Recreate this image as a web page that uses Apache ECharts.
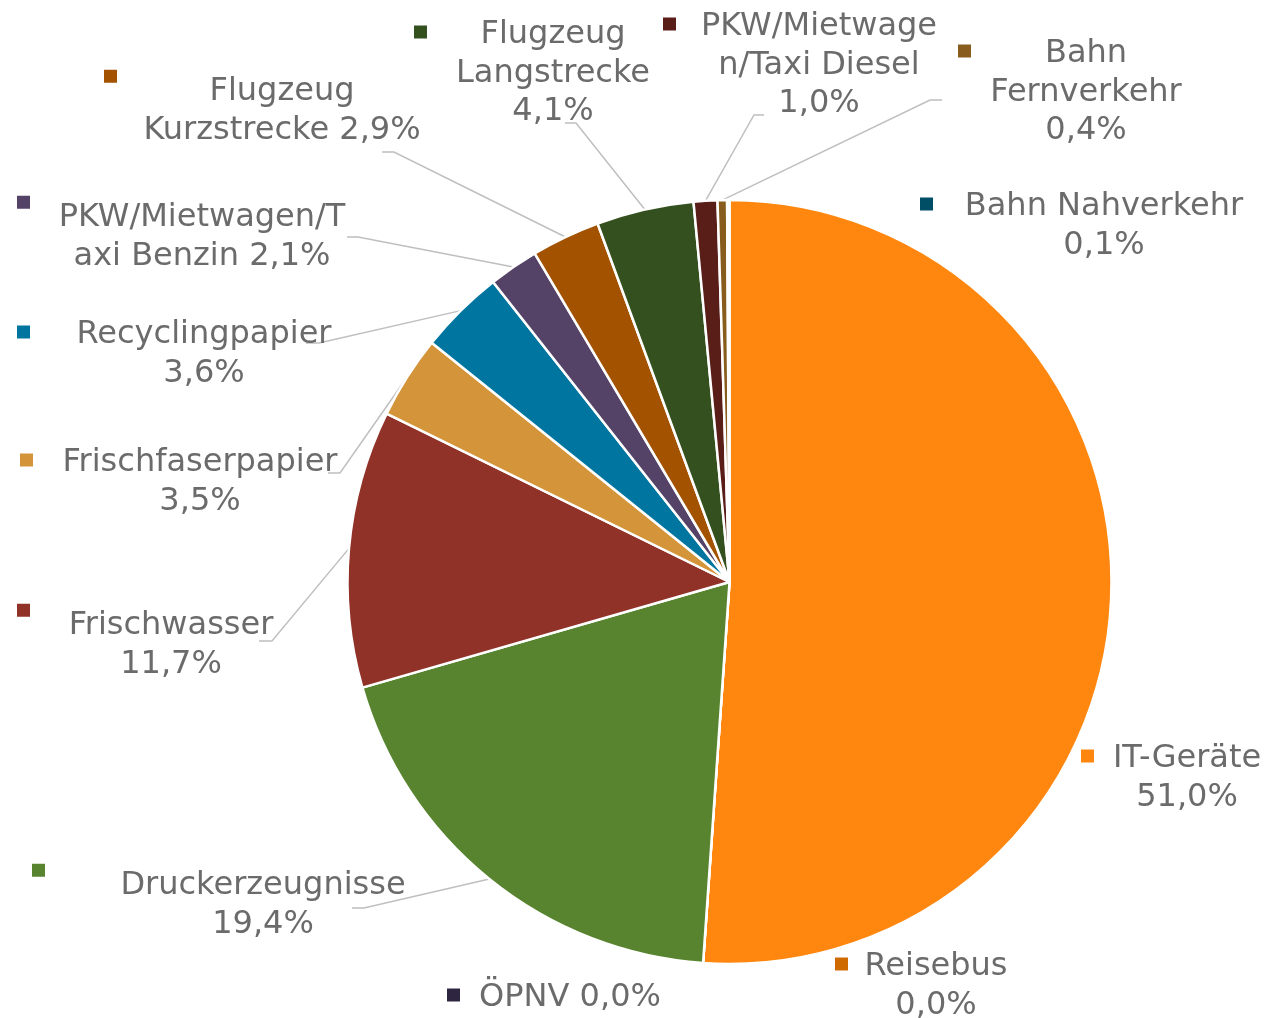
<!DOCTYPE html>
<html>
<head>
<meta charset="utf-8">
<script src="https://cdn.jsdelivr.net/npm/echarts@6/dist/echarts.min.js"></script>
<style>
  html, body { margin: 0; padding: 0; background: #fff; }
  #main { width: 1268px; height: 1018px; }
</style>
</head>
<body>
<div id="main"></div>
<script>
var names = ['IT-Geräte', 'Reisebus', 'ÖPNV', 'Druckerzeugnisse', 'Frischwasser', 'Frischfaserpapier',
  'Recyclingpapier', 'PKW/Mietwagen/Taxi Benzin', 'Flugzeug Kurzstrecke', 'Flugzeug Langstrecke',
  'PKW/Mietwagen/Taxi Diesel', 'Bahn Fernverkehr', 'Bahn Nahverkehr'];
var values = [51.0, 0.0, 0.0, 19.4, 11.7, 3.5, 3.6, 2.1, 2.9, 4.1, 1.0, 0.4, 0.1];
var colors = ['#FF870F', '#CF6A00', '#2E2640', '#58842F', '#903228', '#D3943A',
  '#0075A0', '#544267', '#A35200', '#33501E', '#5A1E19', '#875C1C', '#004E66'];
// label text as wrapped in the chart, # = value
var labelText = ['IT-Geräte\n#', 'Reisebus\n#', 'ÖPNV #', 'Druckerzeugnisse\n#', 'Frischwasser\n#',
  'Frischfaserpapier\n#', 'Recyclingpapier\n#', 'PKW/Mietwagen/T\naxi Benzin #', 'Flugzeug\nKurzstrecke #',
  'Flugzeug\nLangstrecke\n#', 'PKW/Mietwage\nn/Taxi Diesel\n#', 'Bahn\nFernverkehr\n#', 'Bahn Nahverkehr\n#'];

// label placement: marker left, middle of first line, text centre, marker hung at line top
var labelPos = [
  [1081, 756, 1187, 0],
  [835, 964, 936, 0],
  [447, 995, 570, 0],
  [32, 883, 263, 1],
  [17, 623, 171, 1],
  [20, 460, 200, 0],
  [17, 332, 204, 0],
  [17, 215, 202, 1],
  [104, 89, 282, 1],
  [414, 32, 553, 0],
  [663, 24, 819, 0],
  [958, 51, 1086, 0],
  [920, 204, 1104, 0]
];
// leader line: elbow x, elbow y, end x (null = no line)
var leaders = [null, null, null, [364, 908, 352], [272, 641, 259], [340, 473, 328], [319, 343, 306],
  [358, 237, 347], [394, 152, 382], [576, 123, 565], [754, 115, 764], [930, 100, 942], null];

var LH = 38.5;
var FONT = 'Verdana, "DejaVu Sans", sans-serif';
var TXT = '#6B6B6B';

function fmt(v) {
  return v.toFixed(1).replace('.', ',') + '%';
}

var data = names.map(function (n, i) {
  var p = labelPos[i];
  var w = 2 * (p[2] - p[0] - 13);
  var lines = labelText[i].replace('#', fmt(values[i])).split('\n');
  var txt = lines.map(function (l, k) {
    return (k === 0 ? '{m|}' : '{s|}') + '{t|' + l + '}';
  }).join('\n');
  return {
    name: n,
    value: values[i],
    itemStyle: { color: colors[i] },
    labelLine: { show: !!leaders[i] },
    label: {
      formatter: txt,
      width: 13 + w,
      rich: {
        m: { width: 13, height: 13, backgroundColor: colors[i], align: 'left',
             verticalAlign: p[3] ? 'top' : 'middle' },
        s: { width: 13, align: 'left' },
        // top padding nudges the glyphs down a little without changing line spacing
        t: { width: w, align: 'center', fontSize: 32, lineHeight: LH, padding: [6, 0, 0, 0],
             color: TXT, fontFamily: FONT }
      }
    }
  };
});

var myChart = echarts.init(document.getElementById('main'));
myChart.setOption({
  animation: false,
  series: [{
    type: 'pie',
    center: [729.5, 582],
    radius: 382,
    startAngle: 90,
    clockwise: true,
    avoidLabelOverlap: false,
    minShowLabelAngle: 0,
    itemStyle: { borderColor: '#ffffff', borderWidth: 2.5 },
    label: {
      show: true,
      position: 'outside',
      fontSize: 32,
      lineHeight: LH,
      color: TXT,
      fontFamily: FONT
    },
    labelLine: {
      show: true,
      length: 10,
      length2: 10,
      lineStyle: { color: '#BFBFBF', width: 1.5 }
    },
    emphasis: { disabled: true },
    labelLayout: function (params) {
      var i = params.dataIndex;
      var p = labelPos[i];
      var ld = leaders[i];
      var out = { x: p[0], y: p[1] - LH / 2, align: 'left', verticalAlign: 'top' };
      if (ld && params.labelLinePoints) {
        out.labelLinePoints = [params.labelLinePoints[0], [ld[0], ld[1]], [ld[2], ld[1]]];
      }
      return out;
    },
    data: data
  }]
});
</script>
</body>
</html>
